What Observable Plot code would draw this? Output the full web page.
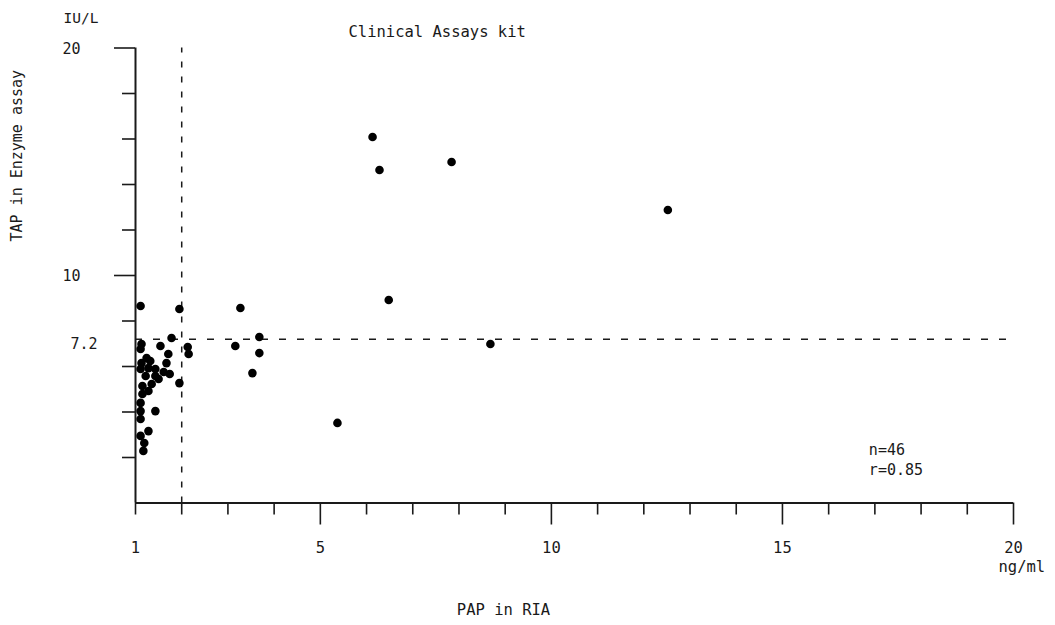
<!DOCTYPE html>
<html><head><meta charset="utf-8">
<script src="https://cdn.jsdelivr.net/npm/d3@7"></script>
<script src="https://cdn.jsdelivr.net/npm/@observablehq/plot@0.6"></script>
<style>body{margin:0;background:#fff}</style>
</head><body><div id="chart"></div>
<script>
// PAP in RIA (ng/ml)
const papRIA = [6.13, 6.28, 7.84, 12.52, 6.48, 8.68, 5.37, 3.27, 3.16, 3.68, 3.68, 3.53,
  1.95, 2.13, 2.15, 1.95, 1.11,
  1.78, 1.54, 1.13, 1.11, 1.71, 1.24, 1.67, 1.13, 1.43, 1.28, 1.61, 1.74, 1.11, 1.22,
  1.43, 1.35, 1.15, 1.28, 1.15, 1.11, 1.43, 1.11, 1.11, 1.28, 1.11, 1.19, 1.17, 1.32, 1.50];
// TAP in Enzyme assay (IU/L)
const tapEnzyme = [16.09, 14.64, 14.99, 12.88, 8.92, 6.99, 3.52, 8.57, 6.90, 7.30, 6.59, 5.71,
  8.53, 6.86, 6.55, 5.27, 8.66,
  7.25, 6.90, 6.99, 6.77, 6.55, 6.37, 6.15, 6.15, 5.89, 5.93, 5.76, 5.67, 5.89, 5.58,
  5.58, 5.23, 5.14, 4.92, 4.79, 4.40, 4.04, 4.04, 3.69, 3.16, 2.95, 2.64, 2.29, 6.24, 5.45];

const xMajorTicks = [5, 10, 15, 20];
const xMinorTicks = [1, 2, 3, 4, 6, 7, 8, 9, 11, 12, 13, 14, 16, 17, 18, 19];
const xTickLabels = [1, 5, 10, 15, 20];
const yMajorTicks = [20, 10];
const yMinorTicks = [2, 4, 6, 8, 12, 14, 16, 18];
const yTickLabels = ["20", "10"];
const yTickValues = [20, 10];
const papCutoff = [2];
const tapCutoff = [7.2];

const data = papRIA.map((p, i) => ({pap: p, tap: tapEnzyme[i]}));
const font = "DejaVu Sans Mono";
const ink = "#1a1a1a";

const chart = Plot.plot({
  width: 1055,
  height: 625,
  marginLeft: 135,
  marginRight: 42,
  marginTop: 47.5,
  marginBottom: 122.5,
  x: {domain: [1, 20]},
  y: {domain: [0, 20]},
  style: {fontFamily: font, background: "#fff", color: ink},
  marks: [
    Plot.axisX(xMinorTicks, {tickSize: 12, tickFormat: () => "", label: null, strokeWidth: 1.6, stroke: ink}),
    Plot.axisX(xMajorTicks, {tickSize: 22, tickFormat: () => "", label: null, strokeWidth: 1.6, stroke: ink}),
    Plot.axisY(yMinorTicks, {tickSize: 13, tickFormat: () => "", label: null, strokeWidth: 1.6, stroke: ink}),
    Plot.axisY(yMajorTicks, {tickSize: 21, tickFormat: () => "", label: null, strokeWidth: 1.6, stroke: ink}),
    Plot.ruleY([0], {x1: 1, x2: 20, stroke: ink, strokeWidth: 2}),
    Plot.ruleX([1], {y1: 0, y2: 20, stroke: ink, strokeWidth: 2}),
    Plot.ruleX(papCutoff, {y1: 0, y2: 20, stroke: ink, strokeWidth: 1.5, strokeDasharray: "6,9"}),
    Plot.ruleY(tapCutoff, {x1: 1, x2: 20, stroke: ink, strokeWidth: 1.5, strokeDasharray: "7,11"}),
    Plot.dot(data, {x: "pap", y: "tap", r: 4.3, fill: "#000", stroke: "none"}),
    Plot.text(xTickLabels, {x: d => d, y: 0, dy: 45.5, text: d => String(d), fontSize: 15.5, fill: ink}),
    Plot.text(["ng/ml"], {x: 20, y: 0, dx: -15, dy: 64.5, textAnchor: "start", fontSize: 15.5, fill: ink}),
    Plot.text(yTickValues, {x: 1, y: d => d, dx: -55, dy: 1, text: (d, i) => yTickLabels[i], textAnchor: "end", fontSize: 15, fill: ink}),
    Plot.text(tapCutoff, {x: 1, y: d => d, dx: -38, dy: 4.5, text: d => String(d), textAnchor: "end", fontSize: 15, fill: ink}),
    Plot.text(["IU/L"], {x: 1, y: 20, dx: -72, dy: -29.5, textAnchor: "start", fontSize: 14.5, fill: ink}),
    Plot.text(["Clinical Assays kit"], {x: 5.61, y: 20, dy: -15.5, textAnchor: "start", fontSize: 15.5, fill: ink}),
    Plot.text(["n=46"], {x: 16.87, y: 2.31, textAnchor: "start", fontSize: 15, fill: ink}),
    Plot.text(["r=0.85"], {x: 16.87, y: 1.43, textAnchor: "start", fontSize: 15, fill: ink}),
    Plot.text(["TAP in Enzyme assay"], {frameAnchor: "left", rotate: -90, dx: -118, dy: -34, fontSize: 15, fill: ink}),
    Plot.text(["PAP in RIA"], {frameAnchor: "bottom", dx: -71, dy: 111.5, fontSize: 15.5, fill: ink, style: "letter-spacing:1px"})
  ]
});
document.getElementById("chart").appendChild(chart);
</script>
</body></html>
